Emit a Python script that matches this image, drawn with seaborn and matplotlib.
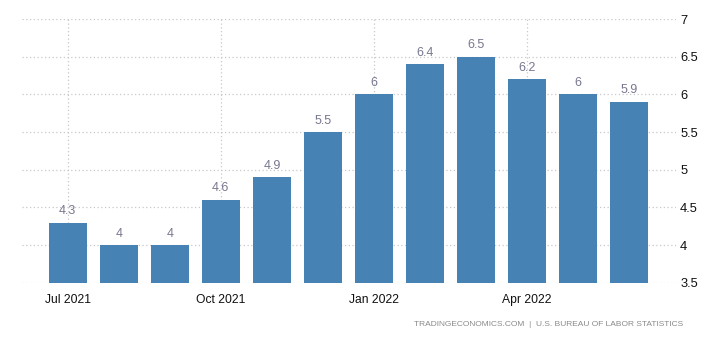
import matplotlib
matplotlib.use("Agg")
import matplotlib.pyplot as plt
import seaborn as sns
import pandas as pd

months = ["Jul 2021", "Aug 2021", "Sep 2021", "Oct 2021", "Nov 2021", "Dec 2021",
          "Jan 2022", "Feb 2022", "Mar 2022", "Apr 2022", "May 2022", "Jun 2022"]
values = [4.3, 4.0, 4.0, 4.6, 4.9, 5.5, 6.0, 6.4, 6.5, 6.2, 6.0, 5.9]
tick_months = ["Jul 2021", "Oct 2021", "Jan 2022", "Apr 2022"]
y_ticks = [3.5, 4, 4.5, 5, 5.5, 6, 6.5, 7]
source = "TRADINGECONOMICS.COM  |  U.S. BUREAU OF LABOR STATISTICS"

df = pd.DataFrame({"month": months, "value": values})

sns.set_style("white")
plt.rcParams["font.family"] = ["Liberation Sans", "DejaVu Sans"]

fig = plt.figure(figsize=(7.06, 3.40), dpi=100)
ax = fig.add_axes([0.031, 0.168, 0.9265, 0.776])

sns.barplot(data=df, x="month", y="value", color="#4682B4", saturation=1,
            width=0.745, linewidth=0, ax=ax, zorder=3)

ax.set_ylim(3.5, 7)
ax.set_xlim(-0.9, 11.92)

# labels above each bar
for i, v in enumerate(values):
    ax.annotate(f"{v:g}", (i, v), xytext=(0, 4), textcoords="offset points",
                ha="center", va="bottom", fontsize=9, color="#77778f", zorder=4)

# month ticks only at quarter starts
tick_pos = [months.index(m) for m in tick_months]
ax.set_xticks(tick_pos)
ax.set_xticklabels(tick_months, fontsize=8.7, color="#111111")
ax.set_yticks(y_ticks)
ax.set_yticklabels([f"{t:g}" for t in y_ticks], fontsize=9.3, color="#111111")
ax.yaxis.tick_right()
ax.tick_params(axis="y", length=0, pad=3)
ax.tick_params(axis="x", length=4, color="#cccccc", pad=4)

ax.grid(True, axis="both", linestyle=(0, (1, 2)), color="#c8c8c8", linewidth=0.9, zorder=0)
ax.set_axisbelow(True)
for s in ax.spines.values():
    s.set_visible(False)
ax.set_xlabel("")
ax.set_ylabel("")

fig.text(0.968, 0.035, source, ha="right", va="bottom", fontsize=6.0, color="#8a8a8a")

fig.savefig("out.png", dpi=100)
